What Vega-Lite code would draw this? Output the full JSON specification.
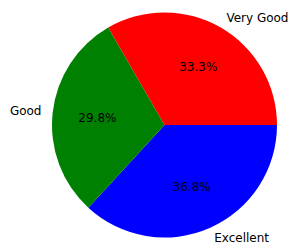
{
  "$schema": "https://vega.github.io/schema/vega-lite/v6.json",
  "autosize": "none",
  "width": 261,
  "height": 248,
  "padding": {"left": 34, "top": 1, "right": 0, "bottom": 0},
  "background": "white",
  "config": {"view": {"stroke": null}},
  "data": {"values": [
    {"category": "Excellent", "share": 0.368},
    {"category": "Good", "share": 0.298},
    {"category": "Very Good", "share": 0.333}
  ]},
  "encoding": {
    "theta": {"field": "share", "type": "quantitative", "stack": true, "scale": {"range": [1.5707963, 7.8539816]}},
    "order": {"field": "category", "type": "nominal", "sort": "ascending"}
  },
  "layer": [
    {
      "mark": {"type": "arc", "outerRadius": 112.5},
      "encoding": {
        "color": {"field": "category", "type": "nominal", "legend": null,
          "scale": {"domain": ["Excellent", "Good", "Very Good"], "range": ["#0000ff", "#008000", "#ff0000"]}}
      }
    },
    {
      "mark": {"type": "text", "radius": 67.5, "font": "DejaVu Sans", "fontSize": 12, "color": "#000000", "baseline": "middle", "align": "center"},
      "encoding": {"text": {"field": "share", "type": "quantitative", "format": ".1%"}}
    },
    {
      "mark": {"type": "text", "radius": 123.75, "font": "DejaVu Sans", "fontSize": 12, "color": "#000000", "baseline": "middle",
        "align": {"expr": "datum.category == 'Good' ? 'right' : 'left'"}},
      "encoding": {"text": {"field": "category", "type": "nominal"}}
    }
  ]
}
